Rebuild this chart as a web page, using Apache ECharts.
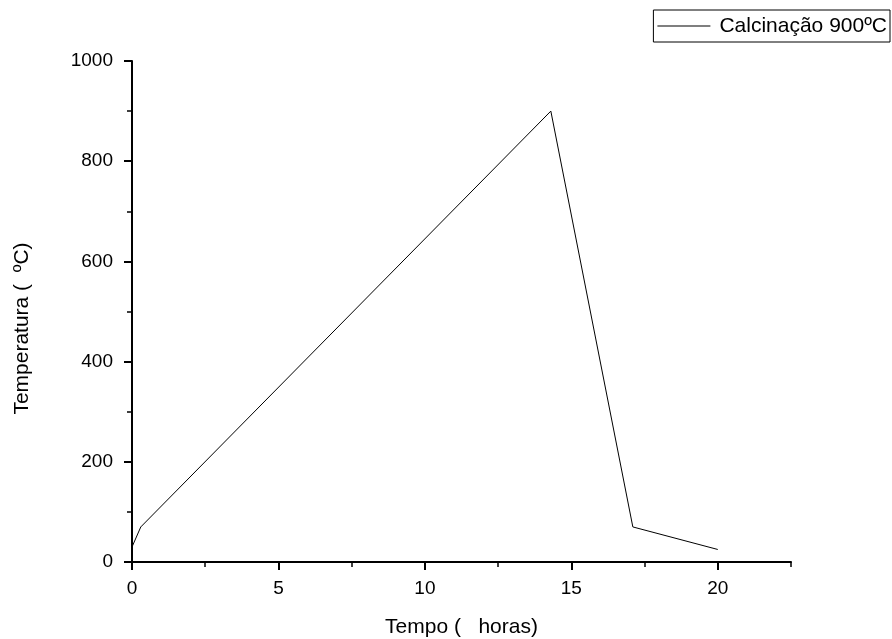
<!DOCTYPE html>
<html>
<head>
    <meta charset="UTF-8">
    <title>Calcinação 900ºC</title>
    <script src="https://cdn.jsdelivr.net/npm/echarts@6/dist/echarts.min.js"></script>
    <style>
        html, body {margin: 0; padding: 0; background: #fff;}
        #main {width: 892px; height: 639px;}
    </style>
</head>
<body>
<div id="main"></div>
<script type="text/javascript">
    // dados
    var tempo = [0, 0.3, 14.3, 17.1, 20];
    var temperatura = [30, 70, 900, 70, 25];
    var seriesName = 'Calcinação 900ºC';

    var pontos = tempo.map(function (t, i) { return [t, temperatura[i]]; });

    var fonte = '"Liberation Sans", Arial, sans-serif';

    var myChart = echarts.init(document.getElementById('main'));
    myChart.setOption({
        animation: false,
        backgroundColor: '#fff',
        textStyle: {fontFamily: fonte, color: '#000'},
        grid: {left: 132, right: 101, top: 61, bottom: 77, outerBoundsMode: 'none', containLabel: false},
        legend: {
            data: [seriesName],
            right: 2,
            top: 10,
            padding: [5, 3, 5, 4],
            borderColor: '#000',
            borderWidth: 1,
            icon: 'rect',
            itemWidth: 53,
            itemHeight: 1,
            itemGap: 0,
            textStyle: {fontSize: 21, lineHeight: 22, color: '#000', fontFamily: fonte, padding: [0, 0, 0, 4]}
        },
        xAxis: [{
            type: 'value',
            min: 0,
            max: 22.5,
            interval: 5,
            name: 'Tempo (   horas)',
            nameLocation: 'middle',
            nameGap: 55,
            nameTextStyle: {fontSize: 21, color: '#000', fontFamily: fonte},
            axisLine: {lineStyle: {color: '#000', width: 2}},
            axisTick: {length: 8, lineStyle: {color: '#000', width: 2}},
            axisLabel: {
                fontSize: 19, color: '#000', margin: 17, showMaxLabel: false,
                formatter: function (v) { return v % 5 === 0 ? String(v) : ''; }
            },
            splitLine: {show: false}
        }, {
            // marcas menores (2.5 h)
            type: 'value',
            position: 'bottom',
            min: 0,
            max: 22.5,
            interval: 2.5,
            axisLine: {show: false},
            axisTick: {length: 5, lineStyle: {color: '#000', width: 1.5}},
            axisLabel: {show: false},
            splitLine: {show: false}
        }],
        yAxis: {
            type: 'value',
            min: 0,
            max: 1000,
            interval: 200,
            name: 'Temperatura (  ºC)',
            nameLocation: 'middle',
            nameGap: 99,
            nameTextStyle: {fontSize: 21, color: '#000', fontFamily: fonte, padding: [0, 34, 0, 0]},
            axisLine: {show: true, lineStyle: {color: '#000', width: 2}},
            axisTick: {show: true, length: 8, lineStyle: {color: '#000', width: 2}},
            minorTick: {show: true, splitNumber: 2, length: 5, lineStyle: {color: '#000', width: 1.5}},
            axisLabel: {
                fontSize: 19, color: '#000', margin: 19,
                formatter: function (v) { return String(v); }
            },
            splitLine: {show: false}
        },
        series: [{
            name: seriesName,
            type: 'line',
            xAxisIndex: 0,
            data: pontos,
            showSymbol: false,
            symbol: 'none',
            itemStyle: {color: '#000'},
            lineStyle: {color: '#000', width: 1}
        }]
    });
</script>
</body>
</html>
